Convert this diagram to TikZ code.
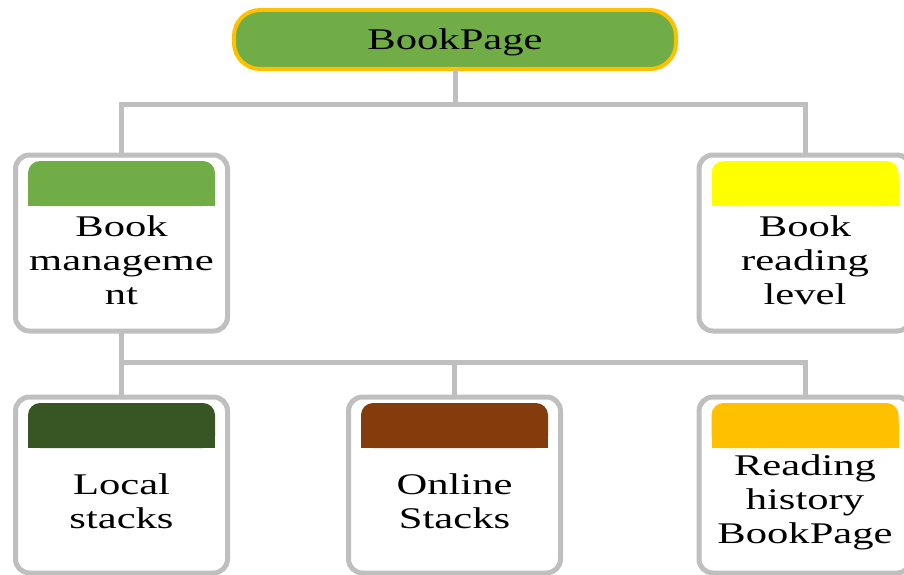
\documentclass[tikz,border=0pt]{standalone}
\usepackage{fontspec}
\newfontfamily\boxfont[FakeStretch=1.42]{Liberation Serif}
\definecolor{leafgreen}{HTML}{70AD47}
\definecolor{amber}{HTML}{FFC000}
\definecolor{lemon}{HTML}{FFFF00}
\definecolor{forest}{HTML}{375623}
\definecolor{rust}{HTML}{843C0C}
\definecolor{linkgray}{HTML}{BFBFBF}
\tikzset{
  rootbox/.style={draw=amber, line width=4pt, fill=leafgreen, rounded corners=26pt,
    minimum width=442pt, minimum height=59pt, inner sep=0pt, outer sep=0pt},
  cardbox/.style={draw=linkgray, line width=5pt, fill=white, rounded corners=14pt,
    minimum width=212pt, minimum height=176pt, inner sep=0pt, outer sep=0pt},
  label/.style={font=\boxfont\fontsize{30}{34}\selectfont, align=center, inner sep=0pt},
  link/.style={draw=linkgray, line width=5pt},
}
% header band across the top of a card, rounded on top only
\newcommand{\cardhead}[2]{%
  \fill[#2, rounded corners=12pt] ([shift={(12.5pt,-6pt)}]#1.north west) rectangle ([shift={(-12.5pt,-51pt)}]#1.north east);
  \fill[#2] ([shift={(12.5pt,-25pt)}]#1.north west) rectangle ([shift={(-12.5pt,-51pt)}]#1.north east);
}
\begin{document}
\begin{tikzpicture}[x=1pt, y=-1pt]
  \useasboundingbox (0,0) rectangle (904,575);
  \clip (0,0) rectangle (904,575);

  % root
  \node[rootbox] (root) at (455,39.5) {};
  \node[label] (roott) at (455,42) {BookPage};

  % second level
  \node[cardbox] (mgmt) at (121.5,243) {};
  \node[cardbox] (level) at (805,243) {};
  % third level
  \node[cardbox] (local) at (121.5,485) {};
  \node[cardbox] (online) at (454.5,485) {};
  \node[cardbox] (hist) at (805,485) {};

  % connectors
  \coordinate (hubA) at (455,105);
  \coordinate (hubB) at (121.5,362);
  \draw[link] (root.south) -- (hubA);
  \draw[link] (mgmt.north) |- (hubA) -| (level.north);
  \draw[link] (mgmt.south) -- (hubB);
  \draw[link] (local.north) |- (hubB) -| (hist.north);
  \draw[link] (online.north) -- (online.north |- hubB);

  % card headers
  \cardhead{mgmt}{leafgreen}
  \cardhead{level}{lemon}
  \cardhead{local}{forest}
  \cardhead{online}{rust}
  \cardhead{hist}{amber}

  % card texts
  \node[label] (mgmtt) at (121.5,260) {Book\\manageme\\nt};
  \node[label] (levelt) at (805,260) {Book\\reading\\level};
  \node[label] (localt) at (121.5,501) {Local\\stacks};
  \node[label] (onlinet) at (454.5,501) {Online\\Stacks};
  \node[label] (histt) at (805,502) {Reading\\history\\BookPage};
\end{tikzpicture}
\end{document}
